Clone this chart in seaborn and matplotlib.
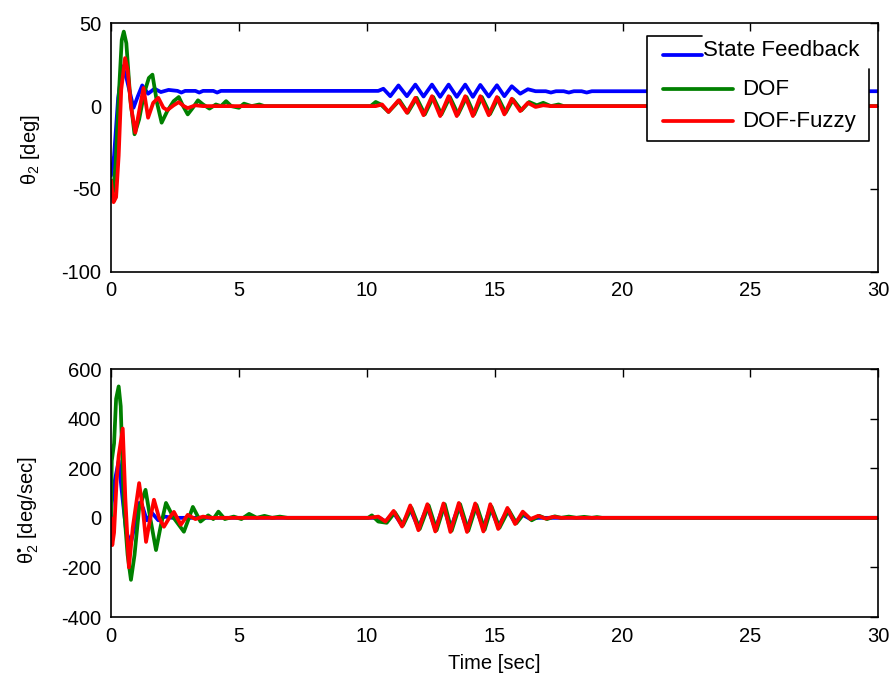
import matplotlib
matplotlib.use("Agg")
import matplotlib.pyplot as plt
from matplotlib.patches import Rectangle
import seaborn as sns

# ---------------- data ----------------
# joint angle theta_2 [deg]
sf_ang_t = [0.0, 0.12, 0.28, 0.45, 0.62, 0.88, 1.05, 1.22, 1.45, 1.7, 1.95, 2.25, 2.6, 2.75, 2.9,
            3.3, 3.45, 3.6, 4.0, 4.15, 4.3, 10.45, 10.65, 10.92, 11.24, 11.57, 11.9, 12.22, 12.55,
            12.87, 13.2, 13.52, 13.85, 14.15, 14.44, 14.77, 15.09, 15.38, 15.67, 16.0, 16.3, 16.6,
            17.0, 17.2, 17.4, 17.7, 17.9, 18.1, 18.4, 18.6, 18.8, 30.0]
sf_ang = [-42, -30, 5, 24, 16, -1, 6, 12.5, 7.5, 10.5, 8.5, 9.8, 9.2, 8.2, 9.2,
          9.2, 8.2, 9.2, 9.2, 8.2, 9.2, 9.2, 10.5, 6.0, 12.5, 6.0, 13.0, 5.8, 13.0,
          5.6, 13.0, 5.6, 13.0, 5.6, 12.8, 5.8, 12.6, 6.0, 12.0, 7.5, 10.2, 9.0,
          9.0, 8.2, 9.0, 9.0, 8.2, 9.0, 9.0, 8.2, 9.0, 9.0]

dof_ang_t = [0.0, 0.08, 0.18, 0.3, 0.42, 0.5, 0.6, 0.75, 0.92, 1.1, 1.3, 1.48, 1.62, 1.8, 1.98,
             2.2, 2.45, 2.65, 2.82, 3.0, 3.2, 3.4, 3.6, 3.85, 4.1, 4.3, 4.5, 4.7, 5.0, 5.2, 5.5,
             5.8, 6.0, 10.15, 10.35, 10.55, 10.85, 11.28, 11.6, 11.95, 12.27, 12.6, 12.92, 13.25,
             13.57, 13.9, 14.2, 14.5, 14.82, 15.14, 15.43, 15.72, 16.05, 16.35, 16.65, 16.9,
             17.2, 17.5, 17.7, 30.0]
dof_ang = [-45, -52, -35, 5, 40, 45, 38, 5, -17, -8, 8, 17, 19, 2, -10,
           -3, 3, 5.5, 0, -5, -1, 3.5, 1, -1.5, 1, 0, 3, 0, -1, 1.5, 0,
           1, 0, 0, 2.5, 1, -3.5, 3.5, -4, 5, -5, 5.5, -5, 5.5,
           -5, 5.5, -5, 5.5, -4.8, 5, -4, 4, -2.5, 2.5, 0.5, 2,
           0, 1, 0, 0]

fz_ang_t = [0.0, 0.1, 0.2, 0.3, 0.4, 0.55, 0.65, 0.78, 0.95, 1.1, 1.27, 1.45, 1.65, 1.85, 2.05,
            2.2, 2.45, 2.65, 2.85, 3.0, 3.3, 3.6, 10.35, 10.6, 10.85, 11.24, 11.57, 11.9, 12.22,
            12.55, 12.87, 13.2, 13.52, 13.85, 14.15, 14.44, 14.77, 15.09, 15.38, 15.67, 16.0,
            16.3, 16.6, 16.9, 17.2, 30.0]
fz_ang = [-45, -58, -55, -30, 10, 29, 22, 0, -16, -3, 11, -7, 2, 5, -1,
          -2.4, 0.5, 2.4, 0, -1.2, 0.5, 0, 0, 1, -3.5, 3.5, -4, 5, -5.5,
          6, -6, 6, -6, 6, -6, 6, -5.5, 5.5, -5, 4.5, -3,
          2, -0.5, 0.5, 0, 0]

# joint velocity [deg/sec]
sf_vel_t = [0.0, 0.03, 0.15, 0.3, 0.45, 0.6, 0.78, 0.95, 1.1, 1.25, 1.4, 1.6, 1.85, 2.1, 2.4,
            10.5, 10.73, 11.05, 11.38, 11.7, 12.02, 12.37, 12.68, 13.0, 13.27, 13.6, 13.92,
            14.24, 14.56, 14.83, 15.14, 15.5, 15.8, 16.1, 16.4, 16.7, 30.0]
sf_vel = [0, 60, 150, 230, 80, -60, -100, -20, 60, 40, -10, 20, -10, 5, 0,
          0, -15, 20, -30, 35, -40, 45, -45, 48, -45, 48, -45,
          48, -42, 42, -35, 30, -20, 12, -5, 0, 0]

dof_vel_t = [0.0, 0.03, 0.12, 0.2, 0.3, 0.38, 0.5, 0.65, 0.78, 0.92, 1.1, 1.35, 1.55, 1.76, 1.95,
             2.15, 2.45, 2.85, 3.05, 3.2, 3.5, 3.8, 4.0, 4.2, 4.45, 4.8, 5.1, 5.4, 5.7, 6.0, 6.3,
             6.6, 6.9, 10.05, 10.2, 10.45, 10.78, 11.1, 11.42, 11.75, 12.07, 12.42, 12.73, 13.05,
             13.32, 13.65, 13.97, 14.29, 14.61, 14.88, 15.19, 15.55, 15.85, 16.15, 16.45, 16.75,
             17.05, 17.35, 17.6, 17.9, 18.2, 18.5, 18.8, 19.0, 19.2, 30.0]
dof_vel = [0, 230, 300, 480, 530, 450, 50, -150, -250, -150, 40, 113, -10, -130, -30,
           60, 0, -56, 0, 44, -15, 10, -5, 25, -5, 5, -5, 16, 0, 8, 0,
           5, 0, 0, 10, -15, -20, 22, -30, 40, -45, 50, -50, 55,
           -52, 55, -52, 52, -48, 45, -40, 32, -22, 18, -10, 8,
           -5, 6, 0, 5, 0, 4, 0, 3, 0, 0]

fz_vel_t = [0.0, 0.05, 0.12, 0.22, 0.3, 0.46, 0.56, 0.7, 0.85, 1.1, 1.25, 1.37, 1.52, 1.68, 1.88,
            2.07, 2.28, 2.46, 2.73, 3.0, 3.3, 3.6, 3.9, 10.1, 10.45, 10.73, 11.05, 11.38, 11.7,
            12.02, 12.37, 12.68, 13.0, 13.27, 13.6, 13.92, 14.24, 14.56, 14.83, 15.14, 15.5,
            15.8, 16.1, 16.4, 16.7, 17.0, 17.3, 17.6, 30.0]
fz_vel = [0, -110, -60, 150, 250, 360, 80, -200, -40, 140, 30, -97, -10, 73, 0,
          -36, 0, 24, -28, 12, -5, 5, 0, 0, 5, -15, 28, -35, 50,
          -50, 55, -55, 58, -57, 60, -57, 58, -55, 55, -45, 40,
          -25, 25, -5, 8, -3, 4, 0, 0]

series_names = ["State Feedback", "DOF", "DOF-Fuzzy"]
series_colors = ["#0000ff", "#008000", "#ff0000"]
x_ticks = [0, 5, 10, 15, 20, 25, 30]
ang_ticks = [-100, -50, 0, 50]
vel_ticks = [-400, -200, 0, 200, 400, 600]

# ---------------- style ----------------
sns.set_theme(style="white")
plt.rcParams["font.family"] = ["Liberation Sans", "DejaVu Sans"]
plt.rcParams["mathtext.fontset"] = "custom"
plt.rcParams["mathtext.rm"] = "Liberation Sans"
plt.rcParams["mathtext.it"] = "Liberation Sans"
plt.rcParams["mathtext.bf"] = "Liberation Sans:bold"
plt.rcParams["axes.unicode_minus"] = False
plt.rcParams["text.color"] = "black"
plt.rcParams["axes.labelcolor"] = "black"

FS = 14.5
LW = 2.7

fig = plt.figure(figsize=(8.93, 6.80), dpi=100)
ax1 = fig.add_axes([0.1243, 0.6004, 0.8592, 0.3653])
ax2 = fig.add_axes([0.1243, 0.0926, 0.8592, 0.3647])

ang_data = [(sf_ang_t, sf_ang), (dof_ang_t, dof_ang), (fz_ang_t, fz_ang)]
vel_data = [(sf_vel_t, sf_vel), (dof_vel_t, dof_vel), (fz_vel_t, fz_vel)]

for ax, data in ((ax1, ang_data), (ax2, vel_data)):
    for (t, v), col in zip(data, series_colors):
        sns.lineplot(x=t, y=v, ax=ax, color=col, linewidth=LW, estimator=None,
                     sort=False, legend=False)

for ax in (ax1, ax2):
    ax.set_xlim(0, 30)
    ax.set_xticks(x_ticks)
    ax.tick_params(direction="in", top=True, right=True, length=6, width=1,
                   labelsize=FS, colors="black", pad=7)
    for sp in ax.spines.values():
        sp.set_color("black")
        sp.set_linewidth(1.2)
    ax.set_facecolor("white")

ax1.set_ylim(-100, 50)
ax1.set_yticks(ang_ticks)
ax2.set_ylim(-400, 600)
ax2.set_yticks(vel_ticks)

ax1.set_ylabel("θ$_2$ [deg]", fontsize=FS)
ax1.yaxis.set_label_coords(-0.090, 0.49)
ax2.set_ylabel("θ$_2^{•}$ [deg/sec]", fontsize=FS)
ax2.yaxis.set_label_coords(-0.091, 0.43)
ax2.set_xlabel("Time [sec]", fontsize=FS, labelpad=6)

# legend box (drawn in axes fraction coordinates)
tr = ax1.transAxes
ax1.add_patch(Rectangle((0.6985, 0.5262), 0.2894, 0.4227, transform=tr,
                        facecolor="white", edgecolor="none", zorder=5))
ax1.plot([0.7702, 0.6985, 0.6985, 0.9879, 0.9879],
         [0.9489, 0.9489, 0.5262, 0.5262, 0.8160],
         transform=tr, color="black", lw=1.2, zorder=6, clip_on=False)
leg_rows = [
    (series_names[0], series_colors[0], 0.7194, 0.7702, 0.8724, 0.7715, 0.8925),
    (series_names[1], series_colors[1], 0.7194, 0.8106, 0.7355, 0.8224, 0.7355),
    (series_names[2], series_colors[2], 0.7194, 0.8106, 0.6067, 0.8224, 0.6047),
]
for name, col, x0, x1, yl, xt, yt in leg_rows:
    ax1.plot([x0, x1], [yl, yl], transform=tr, color=col, lw=LW, zorder=7)
    ax1.text(xt, yt, name, transform=tr, fontsize=16, ha="left",
             va="center", zorder=7)

fig.savefig("out.png", dpi=100, facecolor="white")
